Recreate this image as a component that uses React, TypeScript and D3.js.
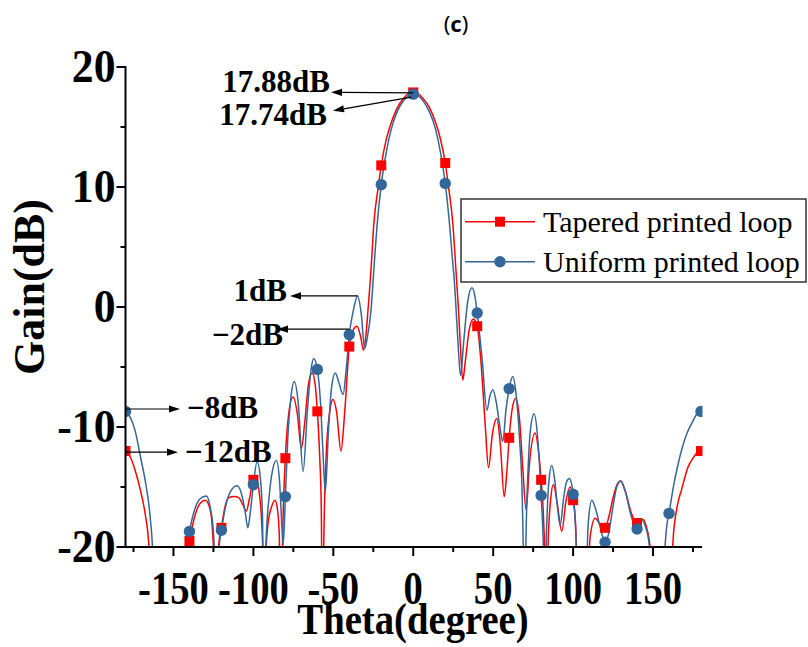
import React from "react";
import * as d3 from "d3";

// Radiation pattern cuts: [theta (deg), gain (dB)]
const taperedPattern: [number, number][] = [
  [-180, -12.0], [-177, -12.5], [-174, -13.6], [-170.6, -15.3], [-167.5, -17.4], [-165.5, -19.6],
  [-164.5, -22], [-163.5, -30], [-160, -30], [-146, -30], [-142.5, -22], [-141.5, -20.3],
  [-140, -19.5], [-137, -17.6], [-133.5, -16.4], [-130, -16.1], [-127, -16.9], [-125.5, -18.8],
  [-124.5, -22], [-123.8, -30], [-122.5, -22], [-121.5, -19.6], [-120, -18.4], [-118, -16.8],
  [-115.5, -15.9], [-112, -15.8], [-109, -15.9], [-106.5, -16.5], [-104.4, -17.0], [-102.5, -16.0],
  [-100, -14.4], [-98.5, -14.2], [-96.5, -15.3], [-95, -17.5], [-94, -21], [-93.3, -30],
  [-92.3, -21], [-91, -18.2], [-88.5, -16.6], [-86.5, -16.1], [-85, -16.8], [-83.8, -19],
  [-83.1, -24], [-82.5, -30], [-81.8, -20], [-80, -12.6], [-78, -9.0], [-75.2, -7.5],
  [-72.5, -8.9], [-70, -11.8], [-68, -9.8], [-65.5, -6.4], [-63.3, -5.5], [-61.5, -6.3],
  [-60, -8.7], [-58.5, -12.5], [-57.5, -17], [-56.8, -30], [-56, -20], [-54.5, -12.5],
  [-52.5, -9.0], [-50.2, -7.7], [-48, -8.7], [-45.2, -12.0], [-43, -9.0], [-40, -3.3],
  [-37.5, -1.9], [-35.2, -1.6], [-33, -2.4], [-31.1, -3.6], [-29.8, -2.6], [-28.3, -0.25],
  [-26, 4.0], [-24.8, 6.7], [-22, 9.9], [-20, 11.8], [-17, 13.9], [-14.4, 15.1],
  [-10, 16.6], [-6, 17.4], [-3, 17.78], [0, 17.88], [3, 17.78], [6, 17.4],
  [10, 16.65], [14.4, 15.2], [17, 14.0], [20, 12.0], [22, 10.1], [24.8, 6.9],
  [26.5, 3.5], [28.3, -0.25], [29.6, -3.5], [31, -6.1], [32.5, -4.6], [35, -1.9],
  [37.6, -1.0], [40, -1.6], [42.5, -4.8], [45, -9.8], [47.1, -13.4], [49.5, -10.6],
  [52.3, -9.3], [54.5, -11.5], [56.9, -15.8], [58.5, -13.8], [60, -10.9], [62, -8.4],
  [64.2, -7.6], [66.5, -9.4], [68.5, -13.4], [70.6, -16.9], [72.8, -12.9], [76.2, -10.5],
  [78.5, -12.2], [80, -14.4], [81.5, -17.6], [82.7, -23], [83.4, -30], [84.3, -20],
  [86, -16.0], [87.7, -14.8], [90, -16.3], [92.9, -18.7], [95.5, -16.2], [98.1, -15.0],
  [100, -16.1], [101.5, -18], [102.6, -23], [103.4, -30], [108.5, -30], [109.5, -23],
  [110.8, -19], [113.8, -17.6], [116.8, -18.1], [120, -18.4], [122.5, -17.4], [125, -15.9],
  [127.5, -14.8], [129.8, -14.5], [132.5, -15.3], [136.5, -17.2], [140, -18.0], [142, -17.7],
  [143.9, -17.7], [146, -18.4], [148.3, -20.2], [149.5, -23], [150.3, -30], [160, -30],
  [161.5, -23], [162.5, -19.5], [165, -16.7], [167.9, -15.2], [172, -13.3], [175, -12.6],
  [178, -12.1], [180, -12.0],
];

const uniformPattern: [number, number][] = [
  [-180, -8.7], [-177, -9.2], [-174, -10.3], [-170.6, -12.5], [-167, -15.0], [-164.5, -17.6],
  [-163, -20.5], [-162.3, -24], [-161.5, -30], [-160, -30], [-146, -30], [-143.2, -24],
  [-142.3, -20.5], [-140, -18.7], [-137, -17.0], [-133.5, -16.0], [-129.4, -15.75], [-127, -16.7],
  [-125, -18.8], [-124, -22], [-123.3, -30], [-122.3, -22], [-121.3, -19.8], [-120, -18.6],
  [-117, -16.4], [-114, -15.3], [-110.2, -14.9], [-107, -15.8], [-105, -17.2], [-103.5, -18.4],
  [-102, -17.2], [-100, -14.8], [-97.7, -12.9], [-95.6, -14.3], [-94.3, -17.5], [-93.4, -30],
  [-92.2, -20], [-90, -15.6], [-88, -13.6], [-85.6, -12.8], [-83.6, -14.6], [-82.2, -18.2],
  [-81.4, -19.8], [-80.6, -18.0], [-80, -15.8], [-78.5, -11.0], [-76.5, -7.5], [-74.4, -6.2],
  [-72, -7.9], [-68.9, -13.7], [-66.2, -8.6], [-64, -5.3], [-62.3, -4.3], [-60, -5.2],
  [-58, -8.0], [-56.5, -12.0], [-55, -15.4], [-53, -10.2], [-51, -6.6], [-48.75, -5.5],
  [-46.5, -6.3], [-43.9, -7.3], [-42, -5.3], [-40, -2.3], [-37.5, -0.3], [-34.8, 0.92],
  [-32.5, -0.6], [-30.4, -3.45], [-28.8, -2.6], [-26.4, -0.25], [-24.5, 3.4], [-22.7, 6.7],
  [-20, 10.2], [-17, 12.8], [-14, 14.7], [-10, 16.3], [-6, 17.2], [-3, 17.62],
  [0, 17.74], [3, 17.62], [6, 17.2], [10, 16.3], [14, 14.8], [17, 12.9],
  [20, 10.3], [22.7, 6.9], [24.5, 4.0], [25.8, 2.0], [26.7, 0.0], [28, -3.0],
  [29.6, -5.7], [31.5, -3.0], [34, 0.4], [36.7, 1.6], [38.7, 0.8], [40, -0.5],
  [43, -4.2], [46.1, -8.6], [48, -7.4], [49.8, -6.9], [52, -8.0], [54, -9.8],
  [56, -11.2], [58, -8.6], [60, -6.8], [62.3, -5.8], [64.5, -7.5], [66.5, -11],
  [68.2, -16], [69, -22], [69.5, -30], [70.3, -21], [72, -13], [73.5, -10.0],
  [75.6, -8.9], [77.5, -10.4], [79, -13.2], [80, -15.7], [81.2, -19], [82.3, -24],
  [83.3, -19], [84.8, -14.6], [86.7, -13.2], [88.5, -14.4], [90, -16.4], [91.9, -18.2],
  [94, -16.0], [95.8, -14.6], [97.7, -14.3], [100, -15.6], [101.3, -17.8], [102.3, -22],
  [103, -30], [108, -30], [108.6, -22], [109.6, -17.8], [111.7, -16.1], [114, -16.8],
  [117, -18.4], [120, -19.6], [122, -19.0], [125, -16.6], [127.5, -14.9], [129.8, -14.5],
  [132.5, -15.3], [136.5, -17.5], [140, -18.5], [141.5, -17.9], [142.9, -17.7], [145, -18.2],
  [147.5, -19.7], [149, -22], [150, -30], [156, -30], [156.9, -22], [158.3, -18.6],
  [160, -17.2], [163, -14.8], [165, -13.5], [167.9, -11.9], [171, -10.6], [174.2, -9.7],
  [177, -9.0], [180, -8.7],
];

const seriesNames = ["Tapered printed loop", "Uniform printed loop"];
const seriesColors = ["#ff0000", "#336699"];
const markerStep = 20;

const xMajorTicks = [-150, -100, -50, 0, 50, 100, 150];
const xMinorTicks = [-175, -125, -75, -25, 25, 75, 125, 175];
const yMajorTicks = [-20, -10, 0, 10, 20];
const yMinorTicks = [-15, -5, 5, 15];

// Values called out with arrows
const peakTapered = 17.88;
const peakUniform = 17.74;
const sideLobeUniform = 1;
const sideLobeTapered = -2;
const backLobeUniform = -8;
const backLobeTapered = -12;

const W = 808;
const H = 647;
const x = d3.scaleLinear().domain([-180, 180]).range([125.5, 701]);
const y = d3.scaleLinear().domain([-20, 20]).range([547, 67]);

const serif = "'Liberation Serif', 'Times New Roman', serif";

function Arrow({ x1, y1, x2, y2 }: { x1: number; y1: number; x2: number; y2: number }) {
  const ang = Math.atan2(y2 - y1, x2 - x1);
  const len = 11;
  const half = 3.6;
  const bx = x2 - len * Math.cos(ang);
  const by = y2 - len * Math.sin(ang);
  const px = -Math.sin(ang) * half;
  const py = Math.cos(ang) * half;
  return (
    <g>
      <line x1={x1} y1={y1} x2={bx} y2={by} stroke="#000" strokeWidth={1.2} />
      <path d={`M${x2},${y2}L${bx + px},${by + py}L${bx - px},${by - py}Z`} fill="#000" />
    </g>
  );
}

export default function App() {
  const line = d3
    .line<[number, number]>()
    .x((d) => x(d[0]))
    .y((d) => y(d[1]))
    .curve(d3.curveMonotoneX);

  const series = [taperedPattern, uniformPattern];
  const markers = series.map((s) => s.filter((d) => Math.abs(d[0] % markerStep) < 1e-9));

  const tickFont = { fontFamily: serif, fontWeight: 700, fontSize: 46 } as const;
  const noteFont = { fontFamily: serif, fontWeight: 700, fontSize: 31 } as const;

  return (
    <svg
      width={W}
      height={H}
      viewBox={`0 0 ${W} ${H}`}
      style={{ position: "absolute", left: 0, top: 0, background: "#fff" }}
    >
      <defs>
        <clipPath id="plotClip">
          <rect x={x(-180)} y={40} width={x(180) - x(-180) + 1.5} height={y(-20) - 40} />
        </clipPath>
      </defs>

      <text x={456} y={32} textAnchor="middle" fontFamily="'Noto Sans', sans-serif" fontSize={22}>
        (<tspan fontWeight={700}>c</tspan>)
      </text>

      {/* curves */}
      <g clipPath="url(#plotClip)">
        {series.map((s, i) => (
          <path key={i} d={line(s) ?? ""} fill="none" stroke={seriesColors[i]} strokeWidth={1.5} />
        ))}
        {markers[0].map((d, j) => (
          <rect key={"t" + j} x={x(d[0]) - 5} y={y(d[1]) - 5} width={10} height={10} fill={seriesColors[0]} />
        ))}
        {markers[1].map((d, j) => (
          <circle key={"u" + j} cx={x(d[0])} cy={y(d[1])} r={5.7} fill={seriesColors[1]} />
        ))}
      </g>

      {/* axes */}
      <g stroke="#000" strokeWidth={2}>
        <line x1={x(-180)} y1={y(20) - 1} x2={x(-180)} y2={y(-20)} />
        <line x1={x(-180) - 1} y1={y(-20)} x2={x(180) + 1} y2={y(-20)} />
        {xMajorTicks.map((t) => (
          <line key={"xM" + t} x1={x(t)} x2={x(t)} y1={y(-20)} y2={y(-20) + 9} />
        ))}
        {xMinorTicks.map((t) => (
          <line key={"xm" + t} x1={x(t)} x2={x(t)} y1={y(-20)} y2={y(-20) + 5} />
        ))}
        {yMajorTicks.map((t) => (
          <line key={"yM" + t} x1={x(-180)} x2={x(-180) - 9} y1={y(t)} y2={y(t)} />
        ))}
        {yMinorTicks.map((t) => (
          <line key={"ym" + t} x1={x(-180)} x2={x(-180) - 5} y1={y(t)} y2={y(t)} />
        ))}
      </g>

      {xMajorTicks.map((t) => (
        <text
          key={"xl" + t}
          transform={`translate(${x(t)},${y(-20) + 57}) scale(0.84,1)`}
          textAnchor="middle"
          {...tickFont}
        >
          {t < 0 ? `-${Math.abs(t)}` : t}
        </text>
      ))}
      {yMajorTicks.map((t) => (
        <text
          key={"yl" + t}
          transform={`translate(${x(-180) - 10},${y(t) + 15}) scale(0.95,1)`}
          textAnchor="end"
          {...tickFont}
        >
          {t < 0 ? `-${Math.abs(t)}` : t}
        </text>
      ))}

      <text
        transform={`translate(413,634) scale(0.86,1)`}
        textAnchor="middle"
        fontFamily={serif}
        fontWeight={700}
        fontSize={45}
      >
        Theta(degree)
      </text>
      <text
        transform={`translate(44,287) rotate(-90)`}
        textAnchor="middle"
        fontFamily={serif}
        fontWeight={700}
        fontSize={44}
      >
        Gain(dB)
      </text>

      {/* callouts */}
      <text x={330} y={91.5} textAnchor="end" {...noteFont}>{`${peakTapered.toFixed(2)}dB`}</text>
      <text x={327} y={125} textAnchor="end" {...noteFont}>{`${peakUniform.toFixed(2)}dB`}</text>
      <Arrow x1={x(0)} y1={y(peakTapered) + 0.5} x2={331} y2={92.3} />
      <Arrow x1={x(0) - 2} y1={y(peakUniform) + 3} x2={333} y2={110.7} />

      <text x={287} y={300.5} textAnchor="end" {...noteFont}>{`${sideLobeUniform}dB`}</text>
      <Arrow x1={x(-34.8)} y1={y(0.92)} x2={290} y2={y(0.92)} />
      <text x={283} y={345} textAnchor="end" {...noteFont}>{`\u2212${Math.abs(sideLobeTapered)}dB`}</text>
      <Arrow x1={x(-40)} y1={y(-1.85)} x2={277} y2={y(-1.85)} />

      <Arrow x1={x(-180)} y1={y(-8.5)} x2={180} y2={y(-8.5)} />
      <text x={187} y={418.3} {...noteFont}>{`\u2212${Math.abs(backLobeUniform)}dB`}</text>
      <Arrow x1={x(-180)} y1={y(-12.1)} x2={178} y2={y(-12.1)} />
      <text x={185} y={461.7} {...noteFont}>{`\u2212${Math.abs(backLobeTapered)}dB`}</text>

      {/* legend */}
      <g>
        <rect x={461} y={199} width={345} height={83} fill="#fff" stroke="#333" strokeWidth={1.5} />
        {seriesNames.map((name, i) => {
          const ly = 221.7 + i * 40;
          return (
            <g key={name}>
              <line x1={465} x2={535} y1={ly} y2={ly} stroke={seriesColors[i]} strokeWidth={1.5} />
              {i === 0 ? (
                <rect x={495} y={ly - 5} width={10} height={10} fill={seriesColors[0]} />
              ) : (
                <circle cx={500} cy={ly} r={5.7} fill={seriesColors[1]} />
              )}
              <text x={543} y={ly + 10} fontFamily={serif} fontSize={30}>
                {name}
              </text>
            </g>
          );
        })}
      </g>
    </svg>
  );
}
